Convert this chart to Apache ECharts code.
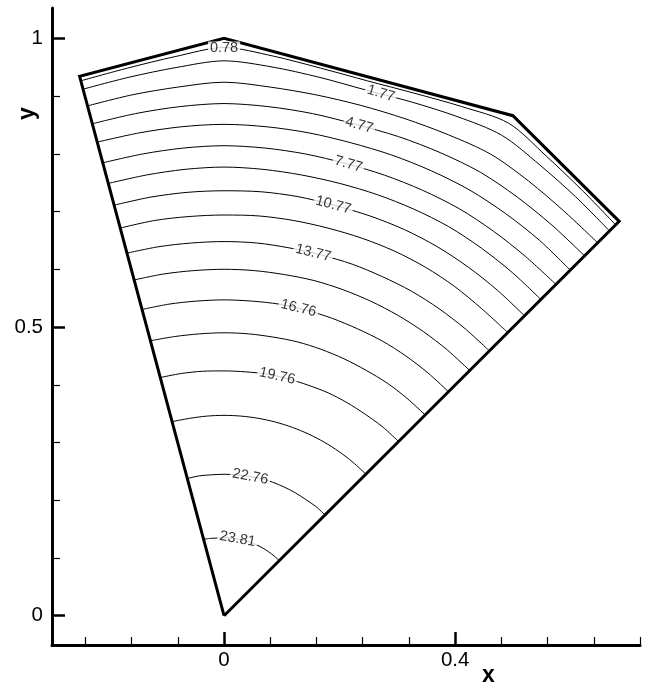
<!DOCTYPE html>
<html>
<head>
<meta charset="utf-8">
<script src="https://cdn.jsdelivr.net/npm/echarts@6/dist/echarts.min.js"></script>
<style>
  html, body { margin: 0; padding: 0; background: #ffffff; }
  #chart { width: 653px; height: 687px; }
</style>
</head>
<body>
<div id="chart"></div>
<script>
// Angles (degrees from +x) at which each contour's distance from the origin is sampled
const sampleAngles = [105, 100, 95, 90, 85, 80, 75, 70, 65, 60, 55, 50, 45];

// Contour levels, outermost to innermost
const levels = [0.78, 1.77, 3.27, 4.77, 6.27, 7.77, 9.27, 10.77, 12.27, 13.77,
                15.27, 16.76, 18.26, 19.76, 21.26, 22.76, 23.81];

// Radius of each contour at the sample angles
const r_0_78  = [0.959, 0.963, 0.972, 0.984, 0.973, 0.963, 0.959, 0.963, 0.973, 0.985, 0.972, 0.963, 0.958];
const r_1_77  = [0.944, 0.947, 0.953, 0.961, 0.954, 0.947, 0.943, 0.947, 0.954, 0.961, 0.953, 0.947, 0.943];
const r_3_27  = [0.914, 0.916, 0.919, 0.924, 0.919, 0.916, 0.915, 0.916, 0.919, 0.923, 0.919, 0.915, 0.914];
const r_4_77  = [0.882, 0.883, 0.885, 0.887, 0.885, 0.883, 0.881, 0.883, 0.885, 0.887, 0.885, 0.883, 0.882];
const r_6_27  = [0.849, 0.849, 0.850, 0.851, 0.850, 0.849, 0.848, 0.849, 0.850, 0.851, 0.850, 0.849, 0.847];
const r_7_77  = [0.812, 0.812, 0.813, 0.814, 0.813, 0.812, 0.811, 0.812, 0.813, 0.814, 0.813, 0.812, 0.812];
const r_9_27  = [0.775, 0.775, 0.776, 0.777, 0.776, 0.775, 0.775, 0.776, 0.777, 0.778, 0.777, 0.776, 0.775];
const r_10_77 = [0.736, 0.736, 0.736, 0.736, 0.737, 0.737, 0.736, 0.737, 0.738, 0.738, 0.737, 0.736, 0.735];
const r_12_27 = [0.695, 0.695, 0.694, 0.694, 0.695, 0.695, 0.695, 0.696, 0.697, 0.697, 0.696, 0.694, 0.694];
const r_13_77 = [0.650, 0.649, 0.648, 0.648, 0.648, 0.647, 0.647, 0.648, 0.648, 0.649, 0.649, 0.649, 0.649];
const r_15_27 = [0.602, 0.601, 0.600, 0.600, 0.600, 0.600, 0.601, 0.601, 0.601, 0.601, 0.601, 0.601, 0.601];
const r_16_76 = [0.549, 0.548, 0.547, 0.547, 0.547, 0.548, 0.548, 0.548, 0.548, 0.549, 0.549, 0.549, 0.549];
const r_18_26 = [0.493, 0.491, 0.490, 0.490, 0.490, 0.490, 0.491, 0.491, 0.491, 0.491, 0.492, 0.492, 0.492];
const r_19_76 = [0.427, 0.426, 0.425, 0.424, 0.424, 0.425, 0.425, 0.425, 0.426, 0.426, 0.426, 0.427, 0.427];
const r_21_26 = [0.348, 0.347, 0.347, 0.347, 0.347, 0.347, 0.347, 0.347, 0.347, 0.347, 0.347, 0.347, 0.347];
const r_22_76 = [0.246, 0.246, 0.245, 0.245, 0.245, 0.245, 0.246, 0.246, 0.246, 0.246, 0.246, 0.247, 0.247];
const r_23_81 = [0.137, 0.136, 0.135, 0.135, 0.135, 0.135, 0.135, 0.135, 0.135, 0.135, 0.135, 0.135, 0.135];

const contourRadii = [r_0_78, r_1_77, r_3_27, r_4_77, r_6_27, r_7_77, r_9_27, r_10_77, r_12_27,
                      r_13_77, r_15_27, r_16_76, r_18_26, r_19_76, r_21_26, r_22_76, r_23_81];

// Domain outline (closed)
const boundaryX = [0, 0.684, 0.5, 0, -0.25, 0];
const boundaryY = [0, 0.683, 0.866, 1, 0.934, 0];

// Inline contour labels: which level, and the angle along the contour where it sits
const labelLevels = [0.78, 1.77, 4.77, 7.77, 10.77, 13.77, 16.76, 19.76, 22.76, 23.81];
const labelText   = ['0.78', '1.77', '4.77', '7.77', '10.77', '13.77', '16.76', '19.76', '22.76', '23.81'];
const labelAngles = [90, 73.3, 74.6, 74.6, 75.1, 76.2, 76.4, 77.5, 79.3, 80.0];

// Axis ticks
const xMajorTicks = [0, 0.4];
const xMinorTicks = [-0.24, -0.16, -0.08, 0.08, 0.16, 0.24, 0.32, 0.48, 0.56, 0.64, 0.72];
const yMajorTicks = [0, 0.5, 1];
const yMinorTicks = [0.1, 0.2, 0.3, 0.4, 0.6, 0.7, 0.8, 0.9];

const X_MIN = -0.2978, X_MAX = 0.72;
const Y_MIN = -0.0507, Y_MAX = 1.0525;

function polarToXY(deg, r) {
  const t = deg * Math.PI / 180;
  return [r * Math.cos(t), r * Math.sin(t)];
}

function radiusAt(radii, deg) {
  for (let i = 0; i < sampleAngles.length - 1; i++) {
    const a0 = sampleAngles[i], a1 = sampleAngles[i + 1];
    if (deg <= a0 && deg >= a1) {
      const f = (a0 - deg) / (a0 - a1);
      return radii[i] + f * (radii[i + 1] - radii[i]);
    }
  }
  return radii[radii.length - 1];
}

const contourSeries = contourRadii.map((radii, k) => ({
  type: 'line',
  name: 'level ' + levels[k],
  data: sampleAngles.map((a, i) => polarToXY(a, radii[i])),
  symbol: 'none',
  smooth: 0.3,
  silent: true,
  z: 3,
  lineStyle: { color: '#000', width: 1 }
}));

const boundarySeries = {
  type: 'line',
  name: 'domain',
  data: boundaryX.map((x, i) => [x, boundaryY[i]]),
  symbol: 'none',
  silent: true,
  z: 4,
  lineStyle: { color: '#000', width: 3, join: 'miter', cap: 'butt' }
};

const labelSeries = {
  type: 'scatter',
  name: 'contour labels',
  symbolSize: 0,
  silent: true,
  z: 6,
  data: labelLevels.map((lv, k) => {
    const radii = contourRadii[levels.indexOf(lv)];
    const a = labelAngles[k];
    return {
      value: polarToXY(a, radiusAt(radii, a)),
      label: { formatter: labelText[k], rotate: a - 90 }
    };
  }),
  label: {
    show: true,
    position: 'inside',
    color: '#000',
    fontFamily: 'Liberation Sans, Arial, sans-serif',
    fontSize: 14.5,
    lineHeight: 12,
    backgroundColor: '#ffffff',
    padding: [0, 2]
  }
};

const axisFont = { color: '#000', fontFamily: 'Liberation Sans, Arial, sans-serif', fontSize: 20.5 };

const chart = echarts.init(document.getElementById('chart'), null, { renderer: 'canvas' });
chart.setOption({
  animation: false,
  backgroundColor: '#ffffff',
  grid: { left: 52, right: 13, top: 8, bottom: 42 },
  xAxis: [
    {
      type: 'value', min: X_MIN, max: X_MAX, position: 'bottom',
      axisLine: { show: true, onZero: false, lineStyle: { color: '#000', width: 3 } },
      axisTick: { show: true, inside: true, length: 13, customValues: xMajorTicks,
                  lineStyle: { color: '#000', width: 2.5 } },
      axisLabel: { show: true, customValues: xMajorTicks, margin: 5, ...axisFont,
                   formatter: v => String(+v.toFixed(2)) },
      splitLine: { show: false }
    },
    {
      type: 'value', min: X_MIN, max: X_MAX, position: 'bottom',
      axisLine: { show: false, onZero: false },
      axisTick: { show: true, inside: true, length: 8, customValues: xMinorTicks,
                  lineStyle: { color: '#000', width: 1.2 } },
      axisLabel: { show: false },
      splitLine: { show: false }
    }
  ],
  yAxis: [
    {
      type: 'value', min: Y_MIN, max: Y_MAX, position: 'left',
      axisLine: { show: true, onZero: false, lineStyle: { color: '#000', width: 3 } },
      axisTick: { show: true, inside: true, length: 13, customValues: yMajorTicks,
                  lineStyle: { color: '#000', width: 2.5 } },
      axisLabel: { show: true, customValues: yMajorTicks, margin: 9, ...axisFont,
                   formatter: v => String(+v.toFixed(2)) },
      splitLine: { show: false }
    },
    {
      type: 'value', min: Y_MIN, max: Y_MAX, position: 'left',
      axisLine: { show: false, onZero: false },
      axisTick: { show: true, inside: true, length: 8, customValues: yMinorTicks,
                  lineStyle: { color: '#000', width: 1.2 } },
      axisLabel: { show: false },
      splitLine: { show: false }
    }
  ],
  graphic: [
    { type: 'text', left: 482, top: 664, silent: true,
      style: { text: 'x', fill: '#000', font: 'bold 23px "Liberation Sans", Arial, sans-serif' } },
    { type: 'text', x: 16, y: 120, rotation: Math.PI / 2, silent: true,
      style: { text: 'y', fill: '#000', font: 'bold 23px "Liberation Sans", Arial, sans-serif' } }
  ],
  series: [...contourSeries, boundarySeries, labelSeries]
});
</script>
</body>
</html>
